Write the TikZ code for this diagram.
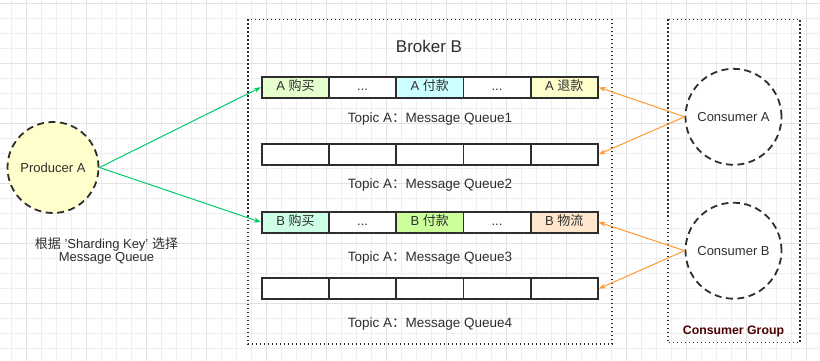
\documentclass[tikz,border=0pt]{standalone}
\usepackage{fontspec}
\setmainfont{Liberation Sans}
\newfontfamily\cjfont{Noto Sans CJK SC}
\newcommand{\cj}[1]{{\cjfont #1}}
\usetikzlibrary{arrows.meta}
\definecolor{txt}{HTML}{2E2E2E}
\definecolor{gridmin}{HTML}{EEEEEE}
\definecolor{gridmaj}{HTML}{E2E2E2}
\definecolor{grn}{HTML}{00CC66}
\definecolor{org}{HTML}{FF9933}
\definecolor{cA1}{HTML}{E6FFCC}
\definecolor{cA2}{HTML}{CCFFFF}
\definecolor{cA3}{HTML}{FFFFCC}
\definecolor{cB1}{HTML}{CCFFE6}
\definecolor{cB2}{HTML}{CCFF99}
\definecolor{cB3}{HTML}{FFE6CC}
\definecolor{prodfill}{HTML}{FFFFCC}
\definecolor{cgtxt}{HTML}{4C0000}
\tikzset{
  gridminor/.style={draw=gridmin, line width=0.8pt},
  gridmajor/.style={draw=gridmaj, line width=0.9pt},
  groupbox/.style={draw=txt, line width=1.6pt, dash pattern=on 1.6pt off 2.4pt},
  cell/.style={draw=txt, line width=1.8pt, minimum width=67.2pt, minimum height=21pt, inner sep=0pt, text height=9.5pt, text depth=2.5pt, font=\fontsize{13}{15}\selectfont, text=txt},
  actor/.style={circle, draw=txt, line width=1.8pt, dash pattern=on 7pt off 4.5pt, minimum size=93pt, inner sep=0pt, font=\fontsize{13}{15}\selectfont, text=txt},
  qlabel/.style={font=\fontsize{13.5}{15.5}\selectfont, text=txt},
  garrow/.style={draw=grn, line width=1pt, -{Stealth[length=7pt,width=5pt]}},
  oarrow/.style={draw=org, line width=1pt, -{Stealth[length=7pt,width=5pt]}},
}
\begin{document}
\begin{tikzpicture}[x=1pt,y=-1pt]
\useasboundingbox (0,0) rectangle (820,361);
\fill[white] (0,0) rectangle (820,361);
% grid
\foreach \i in {0,...,54} {\draw[gridminor] ({11.7+15*\i},0) -- ({11.7+15*\i},361);}
\foreach \i in {0,...,24} {\draw[gridminor] (0,{3.3+15*\i}) -- (820,{3.3+15*\i});}
\foreach \i in {0,...,13} {\draw[gridmajor] ({26.7+60*\i},0) -- ({26.7+60*\i},361);}
\foreach \i in {0,...,6} {\draw[gridmajor] (0,{3.3+60*\i}) -- (820,{3.3+60*\i});}
% broker box
\draw[groupbox] (248,19.5) rectangle (611.7,344);
\node[font=\fontsize{17}{19}\selectfont, text=txt] (broker) at (429,46) {Broker B};
% consumer group box
\draw[groupbox] (667.7,19.5) rectangle (800,342.5);
\node[font=\bfseries\fontsize{12.3}{14}\selectfont, text=cgtxt] (cg) at (733.5,331.5) {Consumer Group};
% queue 1
\node[cell, fill=cA1] (q1a) at (295.4,87.3) {A \cj{购买}};
\node[cell, fill=white] (q1b) at (362.6,87.3) {...};
\node[cell, fill=cA2] (q1c) at (429.8,87.3) {A \cj{付款}};
\node[cell, fill=white] (q1d) at (497,87.3) {...};
\node[cell, fill=cA3] (q1e) at (564.2,87.3) {A \cj{退款}};
\node[qlabel] (l1) at (430,119) {Topic A\cj{：}Message Queue1};
% queue 2
\node[cell, fill=white] (q2a) at (295.4,154.3) {};
\node[cell, fill=white] (q2b) at (362.6,154.3) {};
\node[cell, fill=white] (q2c) at (429.8,154.3) {};
\node[cell, fill=white] (q2d) at (497,154.3) {};
\node[cell, fill=white] (q2e) at (564.2,154.3) {};
\node[qlabel] (l2) at (430,185) {Topic A\cj{：}Message Queue2};
% queue 3
\node[cell, fill=cB1] (q3a) at (295.4,222.2) {B \cj{购买}};
\node[cell, fill=white] (q3b) at (362.6,222.2) {...};
\node[cell, fill=cB2] (q3c) at (429.8,222.2) {B \cj{付款}};
\node[cell, fill=white] (q3d) at (497,222.2) {...};
\node[cell, fill=cB3] (q3e) at (564.2,222.2) {B \cj{物流}};
\node[qlabel] (l3) at (430,258.3) {Topic A\cj{：}Message Queue3};
% queue 4
\node[cell, fill=white] (q4a) at (295.4,288.7) {};
\node[cell, fill=white] (q4b) at (362.6,288.7) {};
\node[cell, fill=white] (q4c) at (429.8,288.7) {};
\node[cell, fill=white] (q4d) at (497,288.7) {};
\node[cell, fill=white] (q4e) at (564.2,288.7) {};
\node[qlabel] (l4) at (430,324) {Topic A\cj{：}Message Queue4};
% producer
\node[actor, fill=prodfill, minimum size=91pt] (prod) at (53,167.5) {Producer A};
\node[qlabel, align=center, font=\fontsize{13}{15}\selectfont] (note) at (106.5,251) {\cj{根据} \char"0027Sharding Key\char"0027{} \cj{选择}\\[-1.5pt]Message Queue};
% consumers
\node[actor, fill=white, minimum size=96pt] (consA) at (733.5,116.8) {Consumer A};
\node[actor, fill=white, minimum size=96pt] (consB) at (733.5,250.7) {Consumer B};
% arrows
\draw[garrow] (prod.east) -- (q1a.west);
\draw[garrow] (prod.east) -- (q3a.west);
\draw[oarrow] (consA.west) -- (q1e.east);
\draw[oarrow] (consA.west) -- (q2e.east);
\draw[oarrow] (consB.west) -- (q3e.east);
\draw[oarrow] (consB.west) -- (q4e.east);
\end{tikzpicture}
\end{document}
